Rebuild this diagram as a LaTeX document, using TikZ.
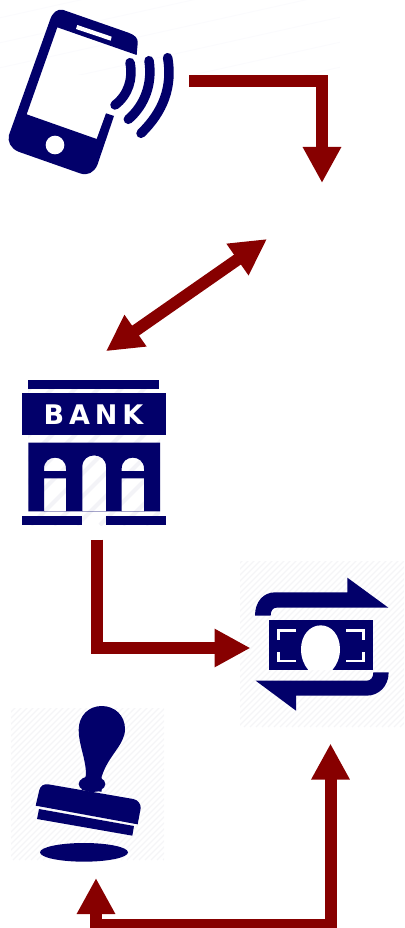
\documentclass[tikz,border=0pt]{standalone}
\usepackage{xcolor}
\usepackage{fontspec}
\usepackage{tikz}
\usetikzlibrary{arrows.meta, positioning}
\newfontfamily\bankfont[LetterSpace=18]{DejaVu Sans}
\definecolor{navyicon}{HTML}{02006A}
\definecolor{arrowred}{HTML}{870000}
\definecolor{hatchgray}{HTML}{F3F3F7}
\definecolor{finegray}{HTML}{F5F5F7}

\begin{document}
\begin{tikzpicture}[x=1pt, y=-1pt, node distance=100pt, auto]
\tikzstyle{iconbox} = [rectangle, inner sep=0pt, outer sep=0pt]
\tikzstyle{icon} = [fill=navyicon, draw=none]
\tikzstyle{hole} = [fill=white, draw=none]
\tikzstyle{wave} = [draw=navyicon, line width=9.5pt, line cap=round]
\tikzstyle{corner} = [draw=white, line width=2.7pt]
\tikzstyle{hatch} = [draw=finegray, line width=1.2pt]
\tikzstyle{arrow} = [draw=arrowred, line width=12pt, -{Triangle[length=36pt,width=36pt]}]
\tikzstyle{bothway} = [draw=arrowred, line width=12pt, {Triangle[length=36pt,width=36pt]}-{Triangle[length=36pt,width=36pt]}]
\useasboundingbox (0,0) rectangle (404,928);

\node (phone) [iconbox, minimum width=167pt, minimum height=166pt] at (91,92) {};
\node (bank) [iconbox, below of=phone, xshift=3pt, yshift=-260pt, minimum width=144pt, minimum height=145pt] {};
\node (money) [iconbox, below of=bank, xshift=228pt, yshift=-93pt, minimum width=133pt, minimum height=133pt] {};
\node (stamp) [iconbox, below of=bank, xshift=-6pt, yshift=-232pt, minimum width=104pt, minimum height=156pt] {};
\coordinate (gatetop) at (322,183);
\coordinate (gateleft) at (267,239);
\coordinate (rail) at (213,925);

% faint backgrounds
\begin{scope}
\clip (0,0) rectangle (340,75);
\foreach \k in {20,45,...,270}
  \draw [draw=hatchgray!30, line width=1pt] (-10,\k) -- ++(360,-80);
\end{scope}
\begin{scope}
\clip (28,388) rectangle (160,525);
\foreach \k in {0,23,...,290}
  \draw [draw=hatchgray, line width=4pt] ({-130+\k},525) -- ++(170,-170);
\end{scope}
\begin{scope}
\clip (240,561) rectangle (404,727);
\foreach \k in {0,6,...,340}
  \draw [hatch] ({240+\k-170},727) -- ++(170,-170);
\end{scope}
\begin{scope}
\clip (11,708) rectangle (164,860);
\foreach \k in {0,6,...,320}
  \draw [hatch] ({11+\k-160},860) -- ++(160,-160);
\end{scope}

% phone
\begin{scope}[scale=1/3]
\path [icon] (190,30) -- (385,98) .. controls (405,105) and (415,115) .. (413,130) -- (410,165) -- (172,82) -- (80,343) -- (290,417) -- (318,340) -- (342,348) -- (292,495) .. controls (282,518) and (262,528) .. (240,520) -- (55,455) .. controls (32,445) and (22,425) .. (27,405) -- (150,60) .. controls (157,38) and (172,25) .. (190,30) -- cycle;
\path [hole] (165,435) circle (28);
\path [hole] (232,75) -- (335,110) -- (332,122) -- (228,87) -- cycle;
\draw [wave] (390,188) .. controls (400,235) and (385,285) .. (345,315);
\draw [wave] (447,182) .. controls (458,250) and (435,315) .. (385,358);
\draw [wave] (503,173) .. controls (518,260) and (490,335) .. (423,400);
\end{scope}

% bank
\begin{scope}[yshift=-370pt, scale=1/3]
\path [icon] (85,30) rectangle (478,58);
\path [icon] (67,70) rectangle (497,196);
\path [icon, even odd rule] (85,218) rectangle (480,424)
  (247,425) -- (247,290) .. controls (247,245) and (318,245) .. (318,290) -- (318,425) -- cycle
  (132,303) -- (132,296) .. controls (132,252) and (198,252) .. (198,296) -- (198,303) -- cycle
  (132,325) rectangle (198,425)
  (365,303) -- (365,296) .. controls (365,252) and (432,252) .. (432,296) -- (432,303) -- cycle
  (365,325) rectangle (432,425);
\path [icon] (67,437) rectangle (247,465);
\path [icon] (318,437) rectangle (497,465);
\end{scope}
\node (banklabel) [text=white, inner sep=0pt] at (93.5,415) {\bankfont\bfseries\fontsize{27}{27}\selectfont BANK};

% money
\begin{scope}[shift={(230,555)}, scale=1/3]
\path [icon] (75,182) .. controls (75,140) and (100,112) .. (135,112) -- (352,112) -- (352,68) -- (475,158) -- (140,158) .. controls (128,158) and (122,168) .. (122,182) -- cycle;
\path [icon] (77,377) -- (410,377) .. controls (422,377) and (430,368) .. (430,352) -- (476,352) .. controls (476,395) and (445,422) .. (410,422) -- (198,422) -- (198,467) -- cycle;
\path [icon] (118,195) rectangle (428,345);
\path [hole] (235,345) .. controls (222,330) and (213,308) .. (213,283) .. controls (213,240) and (240,211) .. (272,211) .. controls (304,211) and (330,240) .. (330,283) .. controls (330,308) and (320,330) .. (307,345) -- cycle;
\draw [corner] (198,226) -- (146,226) -- (146,255);
\draw [corner] (348,226) -- (401,226) -- (401,255);
\draw [corner] (198,318) -- (146,318) -- (146,290);
\draw [corner] (348,318) -- (401,318) -- (401,290);
\end{scope}

% stamp
\begin{scope}[shift={(0,695)}, scale=1/3]
\path [icon] (245,285) -- (258,240) .. controls (258,190) and (236,150) .. (236,105) .. controls (236,60) and (268,33) .. (305,33) .. controls (345,33) and (375,62) .. (375,102) .. controls (375,150) and (325,180) .. (305,245) -- (305,290) -- cycle;
\path [icon] (276,267) ellipse (40 and 24);
\path [icon] (145,268) -- (400,312) .. controls (415,315) and (423,328) .. (422,340) -- (413,388) -- (107,332) -- (118,285) .. controls (121,272) and (132,266) .. (145,268) -- cycle;
\path [icon] (117,342) -- (402,393) -- (397,422) -- (111,372) -- cycle;
\path [icon] (252,472) ellipse (132 and 28);
\end{scope}

\draw [arrow] ([xshift=14.5pt, yshift=10.7pt]phone.east) -| (gatetop);
\draw [bothway] (gateleft) -- ([xshift=12pt, yshift=28.3pt]bank.north);
\draw [arrow] ([xshift=3.3pt, yshift=-15pt]bank.south) |- ([xshift=-5pt, yshift=-3pt]money.west);
\draw [bothway] ([xshift=8pt, yshift=-16pt]stamp.south) |- (rail) -| ([xshift=8.5pt, yshift=-32pt]money.south);
\end{tikzpicture}
\end{document}
